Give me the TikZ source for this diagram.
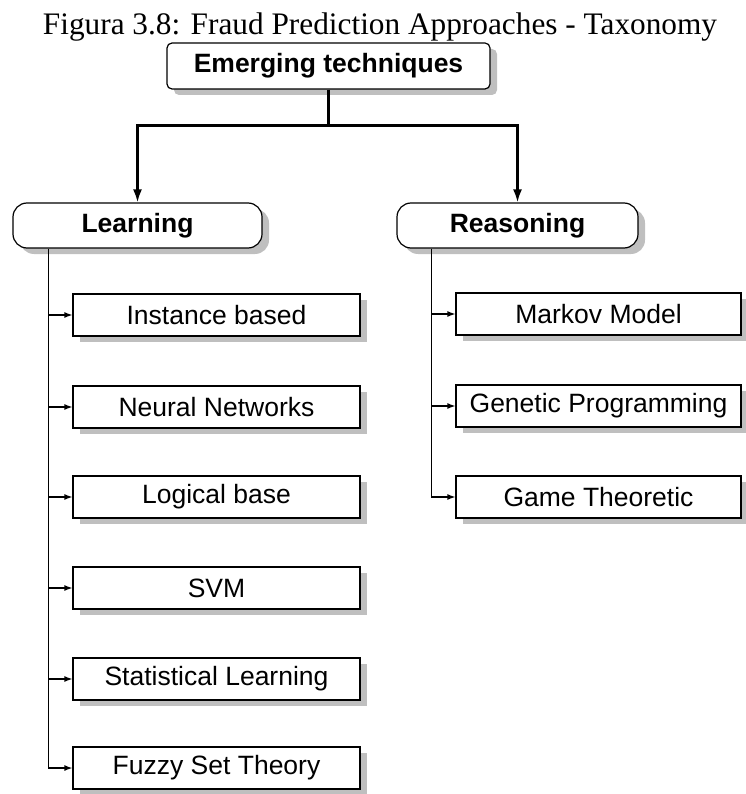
\documentclass[tikz,border=0pt]{standalone}
\usepackage{fontspec}
\setmainfont{Liberation Serif}
\newfontfamily\boxfont{Liberation Sans}
\usetikzlibrary{shadows,arrows.meta,calc}

\begin{document}
\begin{tikzpicture}[x=1pt,y=-1pt,
  shadowed/.style={drop shadow={shadow xshift=7pt,shadow yshift=-6pt,opacity=1,fill=black!25}},
  basebox/.style={draw,line width=1.2pt,fill=white,shadowed,inner sep=0pt,anchor=center},
  leafbox/.style={basebox,minimum height=42pt,font=\boxfont\fontsize{26.5}{30}\selectfont},
  leftleaf/.style={leafbox,minimum width=287pt},
  rightleaf/.style={leafbox,minimum width=285pt},
  groupbox/.style={basebox,rounded corners=14pt,minimum height=45pt,font=\boxfont\bfseries\fontsize{26.5}{30}\selectfont},
  rootbox/.style={basebox,rounded corners=5pt,minimum width=323pt,minimum height=46pt,font=\boxfont\bfseries\fontsize{26.5}{30}\selectfont},
  mainlink/.style={line width=2.2pt},
  mainarrow/.style={mainlink,-{Latex[length=13pt,width=9pt]}},
  leaflink/.style={line width=1.3pt},
  leafarrow/.style={leaflink,-{Latex[length=8pt,width=6pt]}}
]
\useasboundingbox (0,0) rectangle (745,794);

% caption
\node[anchor=base,inner sep=0pt,font=\fontsize{31.3}{36}\selectfont] (caption) at (380,35)
  {Figura 3.8: Fraud Prediction Approaches - Taxonomy};

% root and the two groups
\node[rootbox] (root) at (328.5,66) {Emerging techniques};
\node[groupbox,minimum width=249pt] (learn) at (137.5,225.5) {Learning};
\node[groupbox,minimum width=241pt] (reason) at (517.5,225.5) {Reasoning};

% learning techniques
\node[leftleaf] (inst)  at (216.5,315) {Instance based};
\node[leftleaf] (nn)    at (216.5,407) {Neural Networks};
\node[leftleaf] (logic) at (216.5,497) {Logical base};
\node[leftleaf] (svm)   at (216.5,588) {SVM};
\node[leftleaf] (stat)  at (216.5,679) {Statistical Learning};
\node[leftleaf] (fuzzy) at (216.5,768) {Fuzzy Set Theory};

% reasoning techniques
\node[rightleaf] (markov)  at (598.5,314) {Markov Model};
\node[rightleaf] (genetic) at (598.5,406) {Genetic Programming};
\node[rightleaf] (game)    at (598.5,497) {Game Theoretic};

% root to groups
\coordinate (split) at ($(root.south)+(0,36)$);
\draw[mainlink] (root.south) -- (split);
\draw[mainarrow] (split) -| (learn.north);
\draw[mainarrow] (split) -| (reason.north);

% learning trunk
\coordinate (ltrunk) at ($(learn.south west)+(36,0)$);
\draw[leafarrow] (ltrunk) |- (fuzzy.west);
\foreach \n in {inst,nn,logic,svm,stat}
  \draw[leafarrow] (ltrunk |- \n.west) -- (\n.west);

% reasoning trunk
\coordinate (rtrunk) at ($(reason.south west)+(35,0)$);
\draw[leafarrow] (rtrunk) |- (game.west);
\foreach \n in {markov,genetic}
  \draw[leafarrow] (rtrunk |- \n.west) -- (\n.west);
\end{tikzpicture}
\end{document}
